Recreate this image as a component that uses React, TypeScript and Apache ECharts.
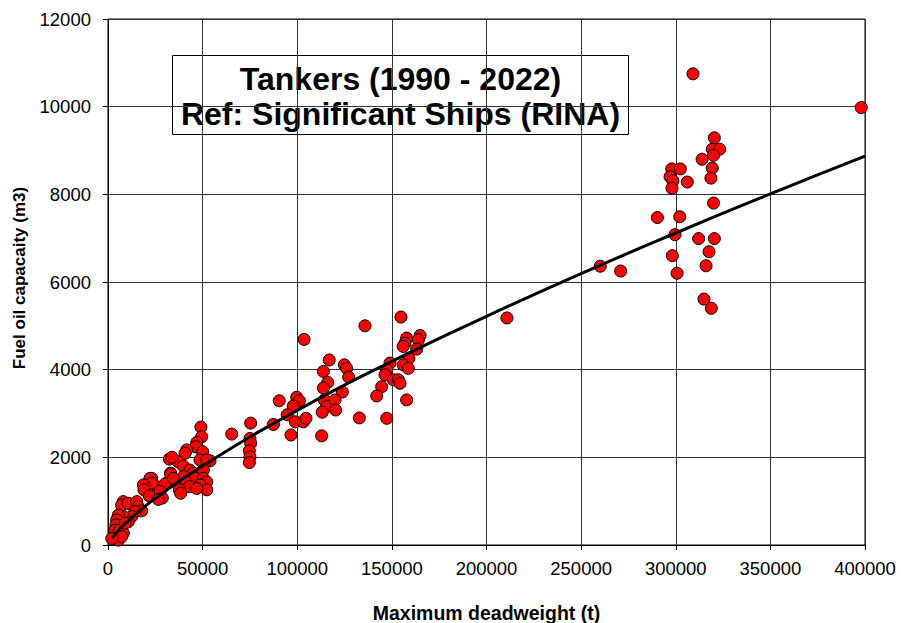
import React, { useEffect, useRef } from "react";
import * as echarts from "echarts";

const shipDwt: number[] = [
  309100, 398000, 320400, 319300, 323200, 320000, 313900, 297900, 302400, 319300,
  297000, 298500, 306100, 318600, 298000, 320000, 290300, 302100, 299600, 312100,
  320400, 317600, 298200, 316000, 260100, 270900, 300700, 314900, 318800, 210800,
  135800, 103600, 116900, 124900, 126100, 127200, 113800, 116100, 113800, 123800,
  99700, 101100, 97900, 94700, 114300, 115600, 120000, 120300, 113200, 99000,
  103200, 104600, 96700, 112900, 132800, 154800, 164900, 157800, 156900, 164000,
  163100, 156000, 159000, 156000, 158700, 149000, 147300, 146400, 150800, 153400,
  154300, 144600, 142000, 157800, 147300, 90500, 87400, 75400, 65400, 75000,
  75400, 74700, 75000, 74700, 53900, 49100, 49500, 46900, 46500, 41600,
  40700, 50000, 48600, 52200, 32400, 37100, 39800, 33100, 43300, 45100,
  46000, 50400, 50400, 52200, 48600, 52200, 31000, 39800, 41200, 43000,
  37700, 38400, 46900, 23100, 26600, 30100, 26100, 22200, 23100, 18700,
  19000, 21800, 33100, 34500, 27500, 28700, 8100, 7200, 10700, 15200,
  16000, 17800, 14300, 12500, 10700, 8100, 5400, 4600, 4200, 3700,
  6300, 8100, 3700, 5400, 7200, 9000, 26600, 2000, 33800
];

const fuelOil: number[] = [
  10750, 9980, 9290, 9030, 9030, 8890, 8800, 8580, 8580, 8600,
  8400, 8310, 8280, 8370, 8140, 7800, 7470, 7490, 7080, 6990,
  6990, 6690, 6600, 6370, 6360, 6250, 6200, 5610, 5400, 5180,
  5000, 4690, 4220, 4110, 4030, 3830, 3960, 3710, 3580, 3490,
  3370, 3290, 3170, 2970, 3310, 3160, 3310, 3080, 3030, 2810,
  2810, 2890, 2510, 2490, 2900, 5200, 4780, 4720, 4600, 4680,
  4470, 4530, 4260, 4110, 4030, 4150, 3990, 3880, 3770, 3770,
  3690, 3610, 3400, 3310, 2890, 3290, 2750, 2780, 2530, 2430,
  2320, 2150, 2010, 1880, 1920, 2690, 2470, 2340, 2240, 2170,
  2090, 2130, 1940, 1940, 1960, 1900, 1800, 1640, 1710, 1640,
  1520, 1710, 1520, 1440, 1370, 1260, 1410, 1560, 1440, 1330,
  1260, 1180, 1290, 1520, 1320, 1390, 1180, 1520, 1410, 1370,
  1260, 1120, 1620, 1520, 1220, 1070, 990, 910, 950, 990,
  870, 780, 760, 650, 530, 650, 680, 570, 460, 340,
  340, 270, 150, 110, 190, 500, 1040, 150, 2000
];

const trendDwt: number[] = [2000, 5000, 10000, 25000, 50000, 100000, 150000, 200000, 250000, 300000, 350000, 400000];
const trendFuel: number[] = [154, 310, 528, 1063, 1807, 3071, 4190, 5218, 6191, 7118, 8009, 8870];

const titleLines: string[] = ["Tankers (1990 - 2022)", "Ref: Significant Ships (RINA)"];
const xAxisTitle = "Maximum deadweight (t)";
const yAxisTitle = "Fuel oil capacaity (m3)";

export default function App() {
  const ref = useRef<HTMLDivElement>(null);
  useEffect(() => {
    if (!ref.current) return;
    const chart = echarts.init(ref.current, null, { renderer: "svg" });
    const font = "'Liberation Sans', Arial, sans-serif";
    chart.setOption({
      animation: false,
      backgroundColor: "#fff",
      grid: {
        left: 108,
        right: 36,
        top: 19,
        bottom: 78,
        outerBoundsMode: "none",
        containLabel: false,
        show: true,
        borderColor: "#000",
        borderWidth: 1,
        backgroundColor: "transparent",
      },
      xAxis: {
        type: "value",
        min: 0,
        max: 400000,
        interval: 50000,
        name: xAxisTitle,
        nameLocation: "middle",
        nameGap: 58,
        nameTextStyle: { fontFamily: font, fontWeight: "bold", fontSize: 19.5, color: "#000" },
        axisLine: { show: true, lineStyle: { color: "#000", width: 1 } },
        axisTick: { show: true, inside: false, length: 5, lineStyle: { color: "#000" } },
        axisLabel: { fontFamily: font, fontSize: 18.5, color: "#000", margin: 14, formatter: (v: number) => String(v) },
        splitLine: { show: true, lineStyle: { color: "#333", width: 1 } },
      },
      yAxis: {
        type: "value",
        min: 0,
        max: 12000,
        interval: 2000,
        name: yAxisTitle,
        nameLocation: "middle",
        nameGap: 80,
        nameRotate: 90,
        nameTextStyle: { fontFamily: font, fontWeight: "bold", fontSize: 17, color: "#000", padding: [0, 0, 0, 8] },
        axisLine: { show: true, lineStyle: { color: "#000", width: 1 } },
        axisTick: { show: true, inside: false, length: 5, lineStyle: { color: "#000" } },
        axisLabel: { fontFamily: font, fontSize: 18.5, color: "#000", margin: 17, formatter: (v: number) => String(v) },
        splitLine: { show: true, lineStyle: { color: "#333", width: 1 } },
      },
      series: [
        {
          type: "scatter",
          data: shipDwt.map((d, i) => [d, fuelOil[i]]),
          symbol: "circle",
          symbolSize: 12,
          itemStyle: { color: "#ff0000", borderColor: "#000", borderWidth: 1, opacity: 1 },
          z: 2,
        },
        {
          type: "line",
          data: trendDwt.map((d, i) => [d, trendFuel[i]]),
          smooth: true,
          symbol: "none",
          lineStyle: { color: "#000", width: 3 },
          z: 3,
        },
      ],
      graphic: [
        {
          type: "group",
          left: 172,
          top: 55,
          z: 10,
          children: [
            {
              type: "rect",
              shape: { x: 0, y: 0, width: 456, height: 79 },
              style: { fill: "#fff", stroke: "#000", lineWidth: 1 },
            },
            {
              type: "text",
              x: 228,
              y: 23,
              style: {
                text: titleLines[0],
                fontFamily: font,
                fontWeight: "bold",
                fontSize: 32,
                fill: "#000",
                textAlign: "center",
                textVerticalAlign: "middle",
              },
            },
            {
              type: "text",
              x: 228,
              y: 58,
              style: {
                text: titleLines[1],
                fontFamily: font,
                fontWeight: "bold",
                fontSize: 32,
                fill: "#000",
                textAlign: "center",
                textVerticalAlign: "middle",
              },
            },
          ],
        },
      ],
    });
    return () => chart.dispose();
  }, []);
  return <div ref={ref} style={{ position: "absolute", left: 0, top: 0, width: 901, height: 623 }} />;
}
